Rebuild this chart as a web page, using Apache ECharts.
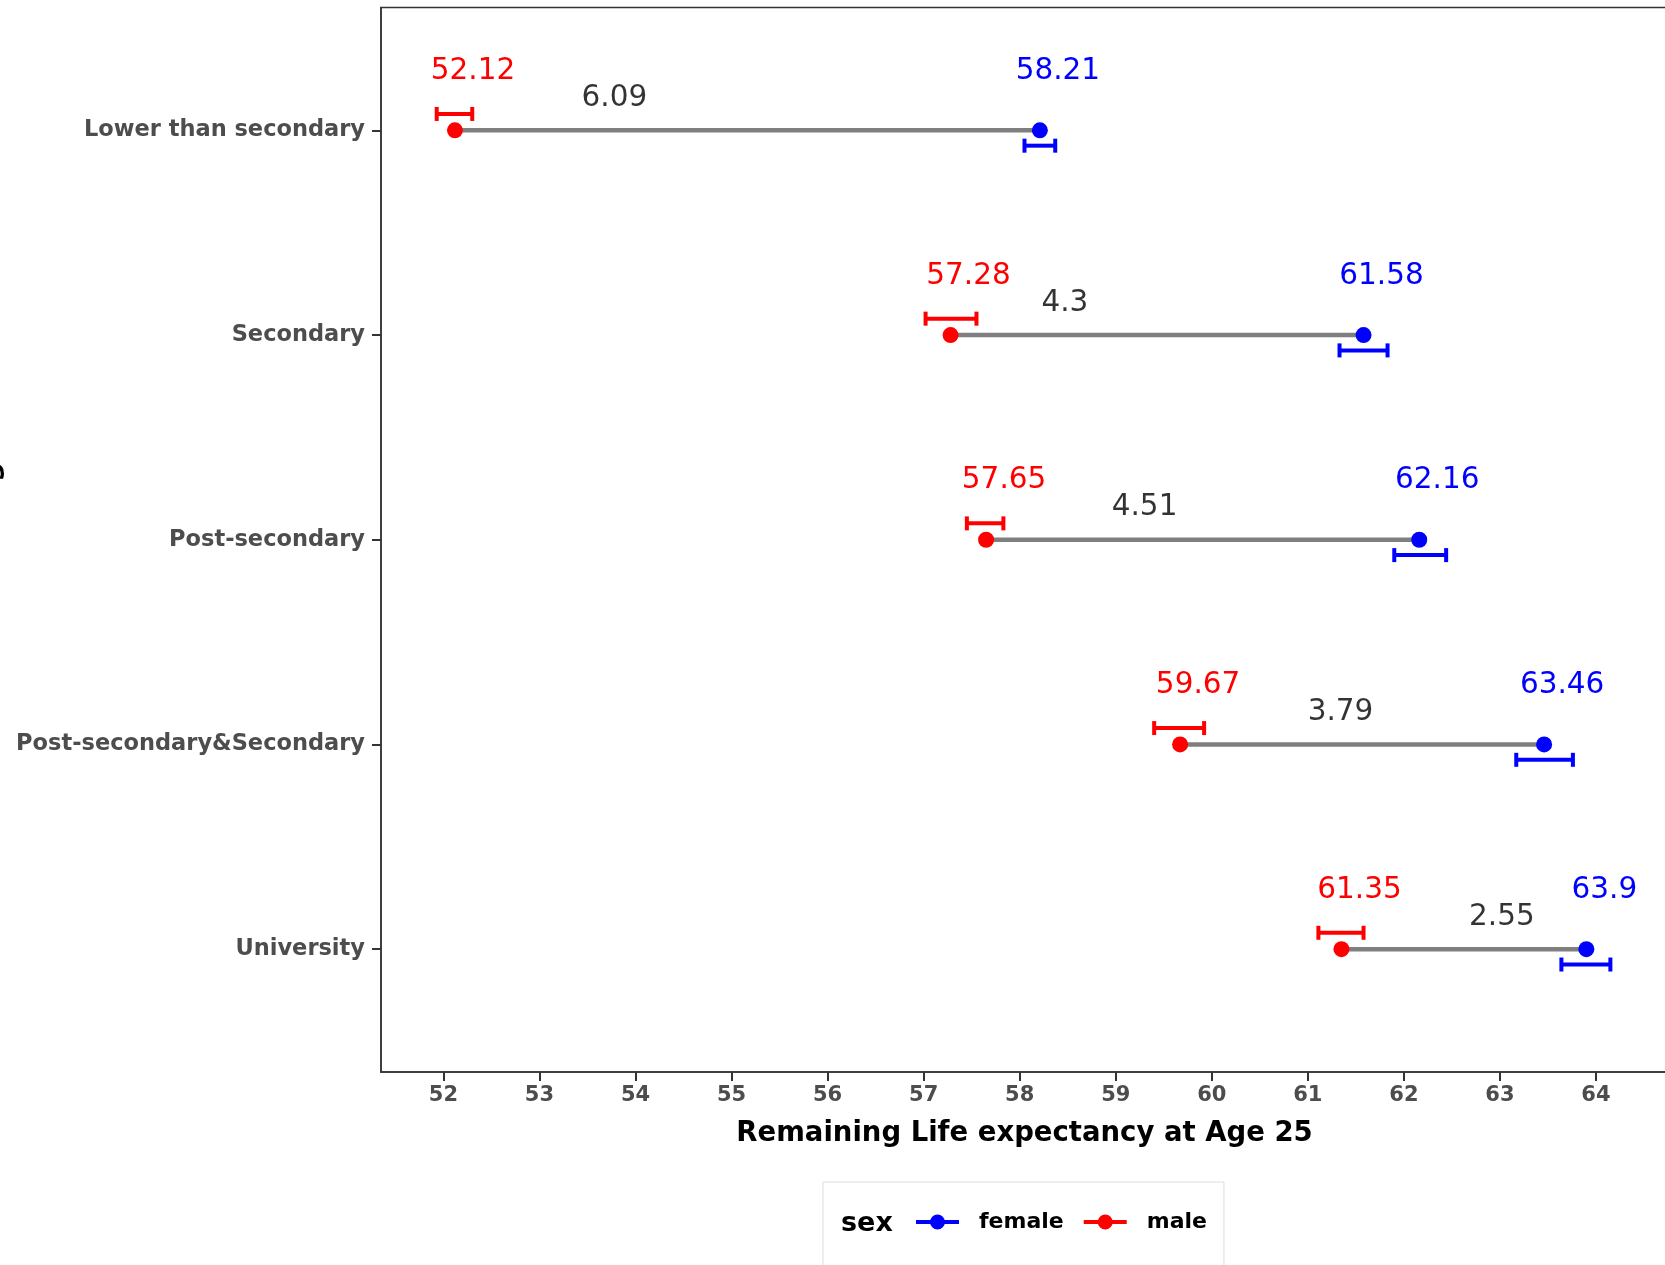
<!DOCTYPE html>
<html>
<head>
<meta charset="utf-8">
<script src="https://cdn.jsdelivr.net/npm/echarts@6/dist/echarts.min.js"></script>
<style>
  html, body { margin: 0; padding: 0; background: #fff; }
  #chart { width: 1665px; height: 1265px; }
</style>
</head>
<body>
<div id="chart"></div>
<script>
const categories = ['Lower than secondary', 'Secondary', 'Post-secondary', 'Post-secondary&Secondary', 'University'];
const maleLE = [52.12, 57.28, 57.65, 59.67, 61.35];
const femaleLE = [58.21, 61.58, 62.16, 63.46, 63.9];
const maleLow = [51.93, 57.02, 57.45, 59.40, 61.11];
const maleHigh = [52.30, 57.55, 57.83, 59.92, 61.58];
const femaleLow = [58.05, 61.33, 61.90, 63.17, 63.64];
const femaleHigh = [58.37, 61.83, 62.44, 63.76, 64.15];
const gapLabelX = [53.78, 58.47, 59.30, 61.34, 63.02];
const xTicks = [52, 53, 54, 55, 56, 57, 58, 59, 60, 61, 62, 63, 64];

const FONT = 'DejaVu Sans';
const RED = '#FF0000';
const BLUE = '#0000FF';

const catIdx = categories.map((_, i) => i);

// horizontal errorbar, shifted up (male) or down (female) from the row
const errorbarItem = (dy, color) => (params, api) => {
  const y = api.value(0) + dy;
  const a = api.coord([api.value(1), y]);
  const b = api.coord([api.value(2), y]);
  const h = 7;
  const style = { stroke: color, lineWidth: 4 };
  return {
    type: 'group',
    children: [
      { type: 'line', shape: { x1: a[0], y1: a[1], x2: b[0], y2: b[1] }, style },
      { type: 'line', shape: { x1: a[0], y1: a[1] - h, x2: a[0], y2: a[1] + h }, style },
      { type: 'line', shape: { x1: b[0], y1: b[1] - h, x2: b[0], y2: b[1] + h }, style }
    ]
  };
};

const legendIcon = 'path://M0,5.5H43V9.5H0Z M14,7.5A7.5,7.5 0 1,1 29,7.5A7.5,7.5 0 1,1 14,7.5Z';

const chart = echarts.init(document.getElementById('chart'));

chart.setOption({
  animation: false,
  backgroundColor: '#fff',
  textStyle: { fontFamily: FONT },
  grid: {
    left: 381, top: 7.5, width: 1287, height: 1064.5,
    outerBoundsMode: 'none', containLabel: false,
    show: true, borderColor: '#333333', borderWidth: 1.5, backgroundColor: 'transparent'
  },
  xAxis: {
    type: 'value', min: 51.35, max: 64.75,
    name: 'Remaining Life expectancy at Age 25',
    nameLocation: 'middle', nameGap: 48,
    nameTextStyle: { fontSize: 27.5, fontWeight: 'bold', color: '#000', fontFamily: FONT },
    axisLine: { show: true, onZero: false, lineStyle: { color: '#333333', width: 1.5 } },
    axisTick: { show: true, length: 9, lineStyle: { color: '#333333', width: 2 }, customValues: xTicks },
    axisLabel: { margin: 13, fontSize: 21, fontWeight: 'bold', color: '#4D4D4D', customValues: xTicks },
    splitLine: { show: false }
  },
  yAxis: {
    type: 'value', inverse: true, min: -0.6, max: 4.6,
    name: 'Education categories',
    nameLocation: 'middle', nameGap: 372, nameRotate: 90,
    nameTextStyle: { fontSize: 28, fontWeight: 'bold', color: '#000', fontFamily: FONT, padding: [0, 20, 0, 0] },
    axisLine: { show: true, onZero: false, lineStyle: { color: '#333333', width: 1.5 } },
    axisTick: { show: true, length: 9, lineStyle: { color: '#333333', width: 2 }, customValues: catIdx },
    axisLabel: {
      margin: 16, fontSize: 22.5, fontWeight: 'bold', color: '#4D4D4D', customValues: catIdx,
      formatter: v => categories[v]
    },
    splitLine: { show: false }
  },
  legend: {
    left: 823, top: 1182,
    padding: [29, 17, 40, 93],
    borderColor: '#dddddd', borderWidth: 1,
    itemWidth: 43, itemHeight: 15, itemGap: 20,
    icon: legendIcon,
    data: ['female', 'male'],
    itemStyle: { opacity: 1 },
    textStyle: { fontSize: 22, fontWeight: 'bold', color: '#000', fontFamily: FONT, padding: [0, 0, 0, 15] }
  },
  graphic: [{
    type: 'text', x: 841, y: 1224,
    style: { text: 'sex', fontSize: 27, fontWeight: 'bold', fontFamily: FONT, fill: '#000', verticalAlign: 'middle' }
  }],
  series: [
    {
      name: 'female', type: 'scatter', z: 5, symbolSize: 16,
      itemStyle: { color: BLUE, opacity: 1 },
      data: catIdx.map(i => [femaleLE[i], i]),
      label: {
        show: true, position: 'inside', offset: [18, -59],
        fontSize: 29.5, color: BLUE, fontFamily: FONT,
        formatter: p => String(p.value[0])
      }
    },
    {
      name: 'male', type: 'scatter', z: 5, symbolSize: 16,
      itemStyle: { color: RED, opacity: 1 },
      data: catIdx.map(i => [maleLE[i], i]),
      label: {
        show: true, position: 'inside', offset: [18, -59],
        fontSize: 29.5, color: RED, fontFamily: FONT,
        formatter: p => String(p.value[0])
      }
    },
    {
      name: 'gap', type: 'custom', z: 2,
      data: catIdx.map(i => [i, maleLE[i], femaleLE[i]]),
      encode: { x: [1, 2], y: 0 },
      renderItem: (params, api) => {
        const a = api.coord([api.value(1), api.value(0)]);
        const b = api.coord([api.value(2), api.value(0)]);
        return { type: 'line', shape: { x1: a[0], y1: a[1], x2: b[0], y2: b[1] }, style: { stroke: '#7F7F7F', lineWidth: 4.5 } };
      }
    },
    {
      name: 'female', type: 'custom', z: 3,
      itemStyle: { color: BLUE },
      data: catIdx.map(i => [i, femaleLow[i], femaleHigh[i]]),
      encode: { x: [1, 2], y: 0 },
      renderItem: errorbarItem(0.075, BLUE)
    },
    {
      name: 'male', type: 'custom', z: 3,
      itemStyle: { color: RED },
      data: catIdx.map(i => [i, maleLow[i], maleHigh[i]]),
      encode: { x: [1, 2], y: 0 },
      renderItem: errorbarItem(-0.08, RED)
    },
    {
      name: 'difference', type: 'scatter', z: 6, symbolSize: 0,
      data: catIdx.map(i => [gapLabelX[i], i, +(femaleLE[i] - maleLE[i]).toFixed(2)]),
      label: {
        show: true, position: 'inside', offset: [0, -32],
        fontSize: 29.5, color: '#000', fontFamily: FONT,
        formatter: p => String(p.value[2])
      }
    }
  ]
});
</script>
</body>
</html>
